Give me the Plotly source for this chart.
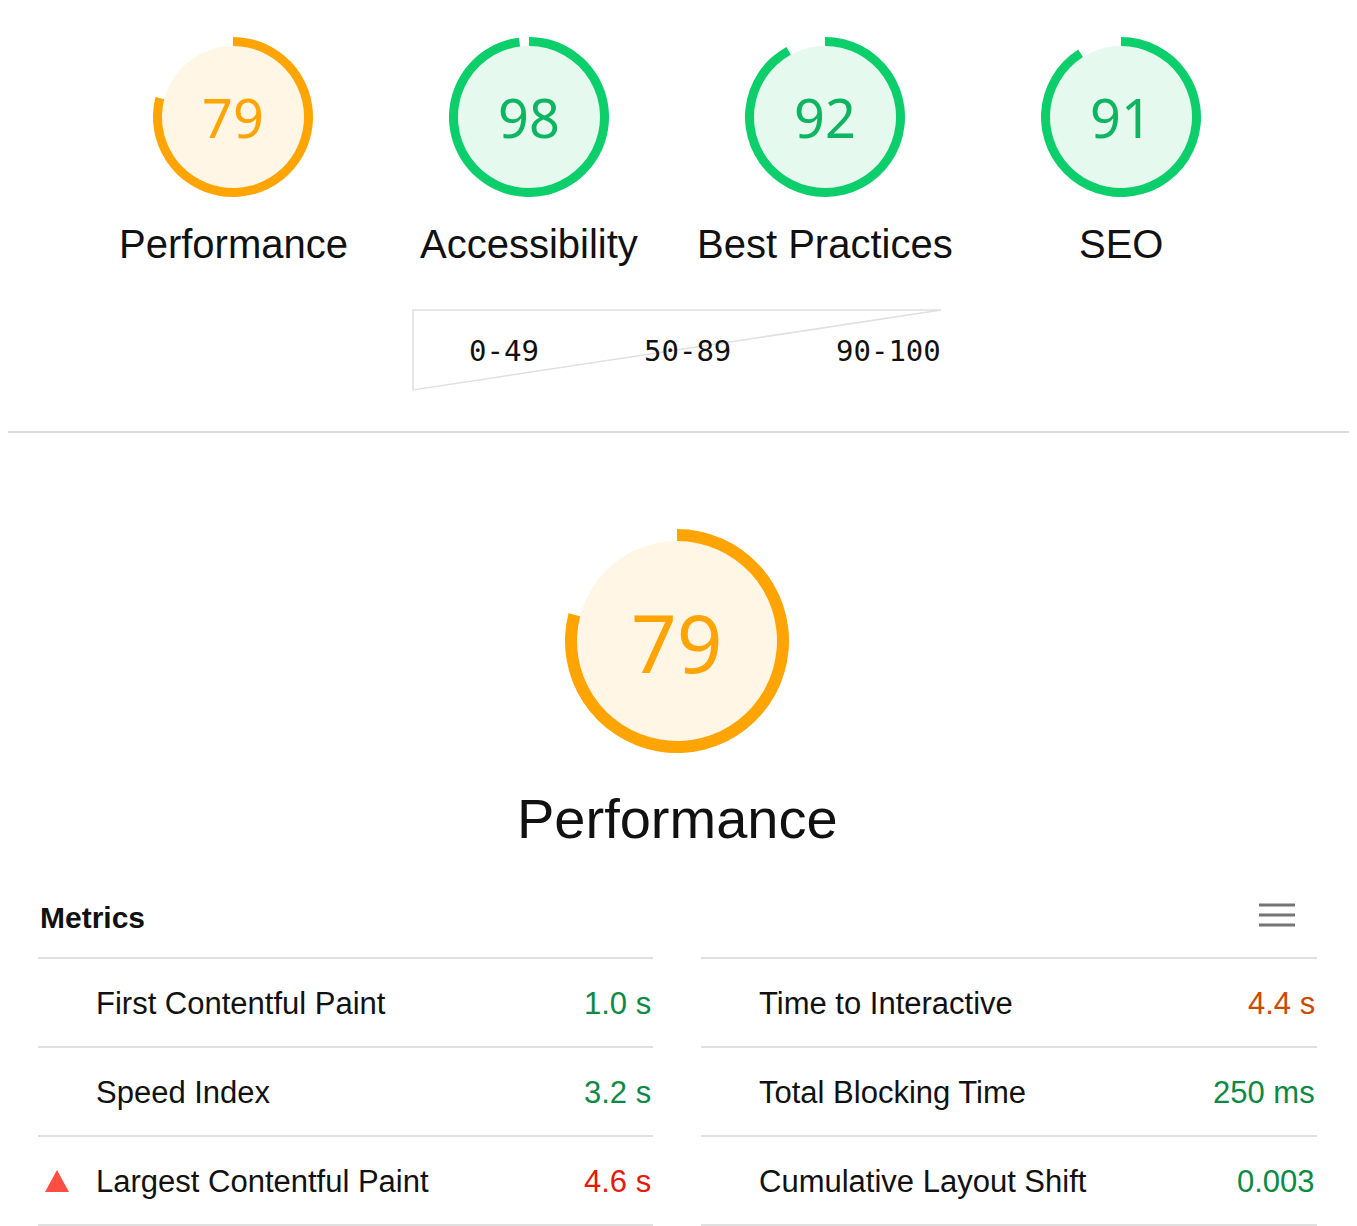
import plotly.graph_objects as go

W, H = 1357, 1226

categories = ["Performance", "Accessibility", "Best Practices", "SEO"]
scores = [79, 98, 92, 91]
legend_labels = ["0-49", "50-89", "90-100"]
metric_names_left = ["First Contentful Paint", "Speed Index", "Largest Contentful Paint"]
metric_values_left = ["1.0 s", "3.2 s", "4.6 s"]
metric_status_left = ["good", "good", "bad"]
metric_names_right = ["Time to Interactive", "Total Blocking Time", "Cumulative Layout Shift"]
metric_values_right = ["4.4 s", "250 ms", "0.003"]
metric_status_right = ["average", "good", "good"]

RING = {"good": "#0cce6b", "average": "#ffa400", "bad": "#ff4e42"}
FILL = {"good": "#e6f9ef", "average": "#fff6e6", "bad": "#ffeceb"}
TEXT = {"good": "#0c8a45", "average": "#cc4a00", "bad": "#e8180c"}


def status(s):
    return "good" if s >= 90 else ("average" if s >= 50 else "bad")


fig = go.Figure()
shapes, annotations = [], []


def gauge(cx, cy, r, width, score, fsize):
    st = status(score)
    shapes.append(dict(type="circle", xref="x", yref="y", x0=cx - r + width, x1=cx + r - width,
                       y0=cy - r + width, y1=cy + r - width, fillcolor=FILL[st], line_width=0, layer="below"))
    fig.add_trace(go.Pie(values=[score, 100 - score], sort=False, direction="clockwise", rotation=0,
                         hole=1 - 2 * width / (2 * r), marker=dict(colors=[RING[st], "rgba(0,0,0,0)"]),
                         textinfo="none", hoverinfo="skip", showlegend=False,
                         domain=dict(x=[(cx - r) / W, (cx + r) / W], y=[1 - (cy + r) / H, 1 - (cy - r) / H])))
    annotations.append(dict(x=cx, y=cy, text=str(score), showarrow=False,
                            font=dict(family="Noto Sans", size=fsize, color=RING[st] if st != "good" else "#0cb560")))


for i, (cat, s) in enumerate(zip(categories, scores)):
    cx = 225 + 296 * i
    gauge(cx, 109, 80, 9, s, 54)
    annotations.append(dict(x=cx, y=236, text=cat, showarrow=False,
                            font=dict(family="Liberation Sans", size=40, color="#111")))

# legend pill
shapes.append(dict(type="path", xref="x", yref="y",
                   path="M 405 302 L 933 302 A 40 40 0 0 1 933 382 L 405 382 A 40 40 0 0 1 405 302 Z",
                   line=dict(color="#e0e0e0", width=1.5), fillcolor="white"))
for lab, x in zip(legend_labels, [496, 679, 880]):
    annotations.append(dict(x=x, y=343, text=lab, showarrow=False,
                            font=dict(family="DejaVu Sans Mono", size=29, color="#111")))

shapes.append(dict(type="line", xref="x", yref="y", x0=0, x1=W, y0=424, y1=424,
                   line=dict(color="#dcdcdc", width=2)))

gauge(669, 633, 112, 12, scores[0], 80)
annotations.append(dict(x=669, y=810, text=categories[0], showarrow=False,
                        font=dict(family="Liberation Sans", size=56, color="#111")))

annotations.append(dict(x=30, y=909, text="<b>Metrics</b>", showarrow=False, xanchor="left",
                        font=dict(family="Liberation Sans", size=30, color="#111")))
for y in [897, 907, 917]:
    shapes.append(dict(type="line", xref="x", yref="y", x0=1251, x1=1287, y0=y, y1=y,
                       line=dict(color="#757575", width=3)))

for col, (names, vals, sts) in enumerate([(metric_names_left, metric_values_left, metric_status_left),
                                          (metric_names_right, metric_values_right, metric_status_right)]):
    x0 = 30 if col == 0 else 693
    x1 = 645 if col == 0 else 1309
    shapes.append(dict(type="line", xref="x", yref="y", x0=x0, x1=x1, y0=950, y1=950,
                       line=dict(color="#e0e0e0", width=2)))
    for j, (n, v, st) in enumerate(zip(names, vals, sts)):
        y = 995 + 89 * j
        annotations.append(dict(x=x0 + 56, y=y, text=n, showarrow=False, xanchor="left",
                                font=dict(family="Liberation Sans", size=31, color="#111")))
        annotations.append(dict(x=x1, y=y, text=v, showarrow=False, xanchor="right",
                                font=dict(family="Liberation Sans", size=31, color=TEXT[st])))
        shapes.append(dict(type="line", xref="x", yref="y", x0=x0, x1=x1, y0=y + 44, y1=y + 44,
                           line=dict(color="#e0e0e0", width=2)))
        if st == "bad":
            shapes.append(dict(type="path", xref="x", yref="y",
                               path=f"M {x0+7} {y+11} L {x0+31} {y+11} L {x0+19} {y-11} Z",
                               fillcolor=RING["bad"], line_width=0))

fig.update_layout(width=W, height=H, margin=dict(l=0, r=0, t=0, b=0),
                  paper_bgcolor="white", plot_bgcolor="white",
                  xaxis=dict(range=[0, W], visible=False, fixedrange=True),
                  yaxis=dict(range=[H, 0], visible=False, fixedrange=True),
                  shapes=shapes, annotations=annotations, showlegend=False)
fig.write_html("out.html", config={"displayModeBar": False})
